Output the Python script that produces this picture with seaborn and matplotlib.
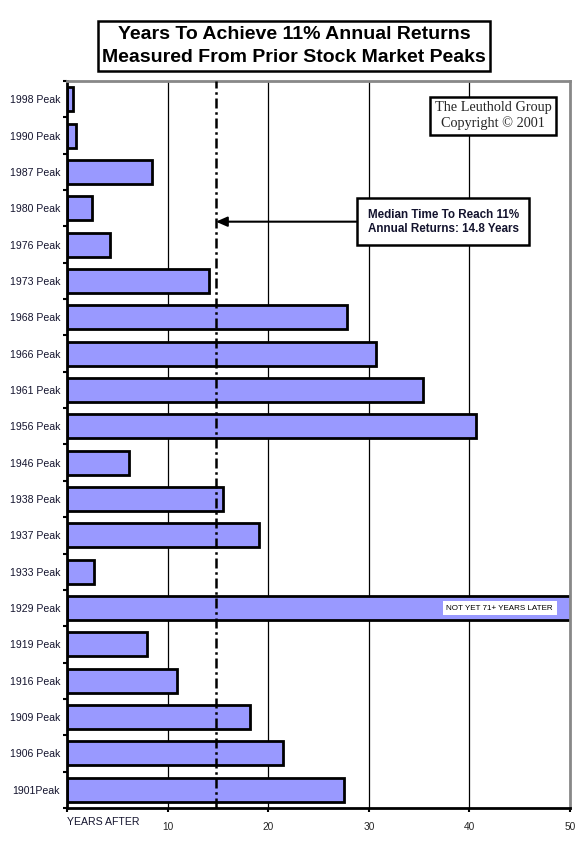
import matplotlib
matplotlib.use("Agg")
import matplotlib.pyplot as plt
import seaborn as sns
import pandas as pd
import numpy as np
from matplotlib.ticker import FixedLocator

peaks = ["1998 Peak", "1990 Peak", "1987 Peak", "1980 Peak", "1976 Peak", "1973 Peak",
         "1968 Peak", "1966 Peak", "1961 Peak", "1956 Peak", "1946 Peak", "1938 Peak",
         "1937 Peak", "1933 Peak", "1929 Peak", "1919 Peak", "1916 Peak", "1909 Peak",
         "1906 Peak", "1901Peak"]
years_to_11pct = [0.6, 0.9, 8.4, 2.5, 4.3, 14.1, 27.8, 30.7, 35.4, 40.7, 6.2, 15.5,
                  19.1, 2.7, 71.0, 8.0, 10.9, 18.2, 21.5, 27.5]
median_years = 14.8
x_ticks = [10, 20, 30, 40, 50]

sns.set_theme(style="white")
plt.rcParams['font.family'] = ['Liberation Sans', 'DejaVu Sans']

df = pd.DataFrame({"peak": peaks, "years": years_to_11pct})

fig = plt.figure(figsize=(5.85, 8.47), dpi=100)
ax = fig.add_axes([67/585, 1-808/847, (570-67)/585, (808-81)/847])

sns.barplot(data=df, x="years", y="peak", orient="h", color="#9999FF",
            saturation=1, edgecolor="black", linewidth=2.0, width=0.66, ax=ax)

ax.set_xlim(0, 50)
ax.set_ylim(len(peaks) - 0.5, -0.5)
ax.set_xlabel("")
ax.set_ylabel("")

# gridlines
for t in x_ticks[:-1]:
    ax.axvline(t, color="black", lw=0.9, zorder=0)

# median line
ax.axvline(median_years, color="black", lw=1.8, ls=(0, (4, 1.5, 1, 1.5)), zorder=3)

# spines
for s in ["left", "bottom"]:
    ax.spines[s].set_color("black")
    ax.spines[s].set_linewidth(2)
for s in ["top", "right"]:
    ax.spines[s].set_color("#888888")
    ax.spines[s].set_linewidth(2)

ax.set_xticks([0] + x_ticks)
ax.set_xticklabels([""] + [str(t) for t in x_ticks], fontsize=7.3)
ax.tick_params(axis="x", direction="out", length=3, width=1.5, color="black",
               bottom=True, pad=7)
ax.set_yticks(range(len(peaks)))
ax.set_yticklabels(peaks, fontsize=7.6, color="#14142e")
ax.tick_params(axis="y", length=0, pad=5)
ax.yaxis.set_minor_locator(FixedLocator(np.arange(-0.5, len(peaks), 1.0)))
ax.tick_params(axis="y", which="minor", direction="out", length=3, width=1.5,
               color="black", left=True)

ax.text(0.0, -0.012, "YEARS AFTER", transform=ax.transAxes, fontsize=7.6,
        ha="left", va="top", color="#14142e")

# 1929 label
idx1929 = peaks.index("1929 Peak")
ax.text(43.0, idx1929, "NOT YET 71+ YEARS LATER", fontsize=5.8, ha="center",
        va="center", color="black", zorder=5,
        bbox=dict(boxstyle="square,pad=0.45", fc="white", ec="white", lw=0))

# annotation
ax.annotate("Median Time To Reach 11%\nAnnual Returns: 14.8 Years",
            xy=(median_years, 3.37), xytext=(37.4, 3.37),
            fontsize=8.4, fontweight="bold", ha="center", va="center",
            color="#14142e", linespacing=1.25,
            bbox=dict(boxstyle="square,pad=0.9", fc="white", ec="black", lw=1.8),
            arrowprops=dict(arrowstyle="-|>,head_length=0.8,head_width=0.35",
                            color="black", lw=1.5, shrinkA=0, shrinkB=0),
            zorder=6)

# Leuthold box
ax.text(42.35, 0.46, "The Leuthold Group\nCopyright \u00a9 2001", fontsize=10.3,
        family=["Liberation Serif", "DejaVu Serif"], ha="center", va="center",
        linespacing=1.2, zorder=6,
        bbox=dict(boxstyle="square,pad=0.3", fc="white", ec="black", lw=1.8))

# Title
fig.text(294/585, 1-46/847,
         "Years To Achieve 11% Annual Returns\nMeasured From Prior Stock Market Peaks",
         fontsize=14, fontweight="bold", ha="center", va="center", linespacing=1.5,
         color="black",
         bbox=dict(boxstyle="square,pad=0.22", fc="white", ec="black", lw=1.8))

fig.savefig("out.png", dpi=100)
